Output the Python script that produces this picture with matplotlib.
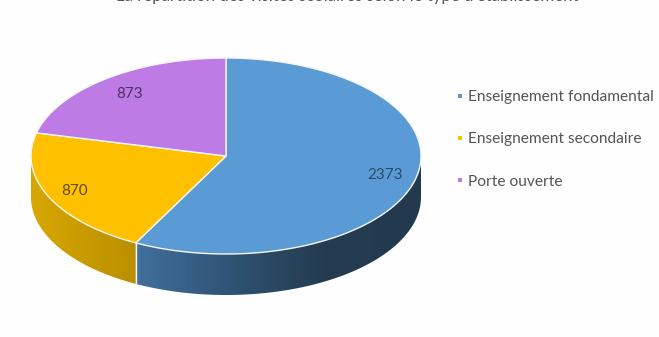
import numpy as np
import matplotlib
matplotlib.use("Agg")
import matplotlib.pyplot as plt
from matplotlib.patches import Polygon
from matplotlib.colors import LinearSegmentedColormap

labels = ["Enseignement fondamental", "Enseignement secondaire", "Porte ouverte"]
values = [2373, 870, 873]
colors = ["#5B9BD5", "#FFC000", "#BE7BE6"]
# title is cropped in the picture, only descenders show, wording is a best guess
title = "La répartition des visites scolaires selon le type d'établissement"

plt.rcParams["font.family"] = ["Lato", "DejaVu Sans"]

fig = plt.figure(figsize=(6.59, 3.37), dpi=100, facecolor="#FEFEFE")
ax = fig.add_axes([0, 0, 1, 1])
ax.set_xlim(0, 659)
ax.set_ylim(337, 0)
ax.axis("off")

cx, cy, rx, ry, depth = 226, 156, 195, 98, 41


def ell(t):
    return cx + rx * np.sin(t), cy - ry * np.cos(t)


fracs = np.array(values) / sum(values)
edges = np.concatenate([[0], np.cumsum(fracs)]) * 2 * np.pi

# sides first, only the part facing us (t between 90 and 270 deg)
side_cols = [["#426F9E", "#2F5373", "#243B50", "#233A4E"], ["#BB8E00", "#C89B00", "#D8A800"]]
for i in range(2):
    a = max(edges[i], np.pi / 2)
    b = min(edges[i + 1], 3 * np.pi / 2)
    t = np.linspace(a, b, 200)
    x, y = ell(t)
    pts = np.column_stack([np.r_[x, x[::-1]], np.r_[y, y[::-1] + depth]])
    cmap = LinearSegmentedColormap.from_list("s", side_cols[i])
    if i == 0:
        grad = np.linspace(0, 1, 256)[None, :]
    else:
        grad = np.linspace(1, 0, 256)[None, :]
    im = ax.imshow(grad, cmap=cmap, extent=(x.min(), x.max(), y.max() + depth, y.min()),
                   aspect="auto", zorder=1)
    p = Polygon(pts, closed=True, fc="none", ec="none", transform=ax.transData)
    ax.add_patch(p)
    im.set_clip_path(p)
ax.set_xlim(0, 659)
ax.set_ylim(337, 0)

# seam between the two side faces
sx, sy = ell(edges[1])
ax.plot([sx, sx], [sy, sy + depth], color="#F4F4F0", lw=1, zorder=2)

# top faces
for i in range(3):
    t = np.linspace(edges[i], edges[i + 1], 200)
    x, y = ell(t)
    pts = np.column_stack([np.r_[cx, x], np.r_[cy, y]])
    ax.add_patch(Polygon(pts, closed=True, fc=colors[i], ec="#F6F6F6", lw=1.0, zorder=3))

# value labels
ax.text(385, 175, str(values[0]), color="#2F4A66", fontsize=11, ha="center", va="center", zorder=4)
ax.text(75, 191, str(values[1]), color="#5E4A10", fontsize=11, ha="center", va="center", zorder=4)
ax.text(130, 94, str(values[2]), color="#4A3360", fontsize=11, ha="center", va="center", zorder=4)

# legend
legend_y = [96, 138, 180]
for lab, col, ly in zip(labels, colors, legend_y):
    ax.scatter([460], [ly], marker="s", s=10, color=col, linewidths=0, zorder=4)
    ax.text(468, ly + 1.5, lab, color="#555555", fontsize=11.2, ha="left", va="center")

ax.text(347, 0.5, title, color="#555555", fontsize=12.1, ha="center", va="baseline", clip_on=True)

fig.savefig("out.png", dpi=100, facecolor=fig.get_facecolor())
